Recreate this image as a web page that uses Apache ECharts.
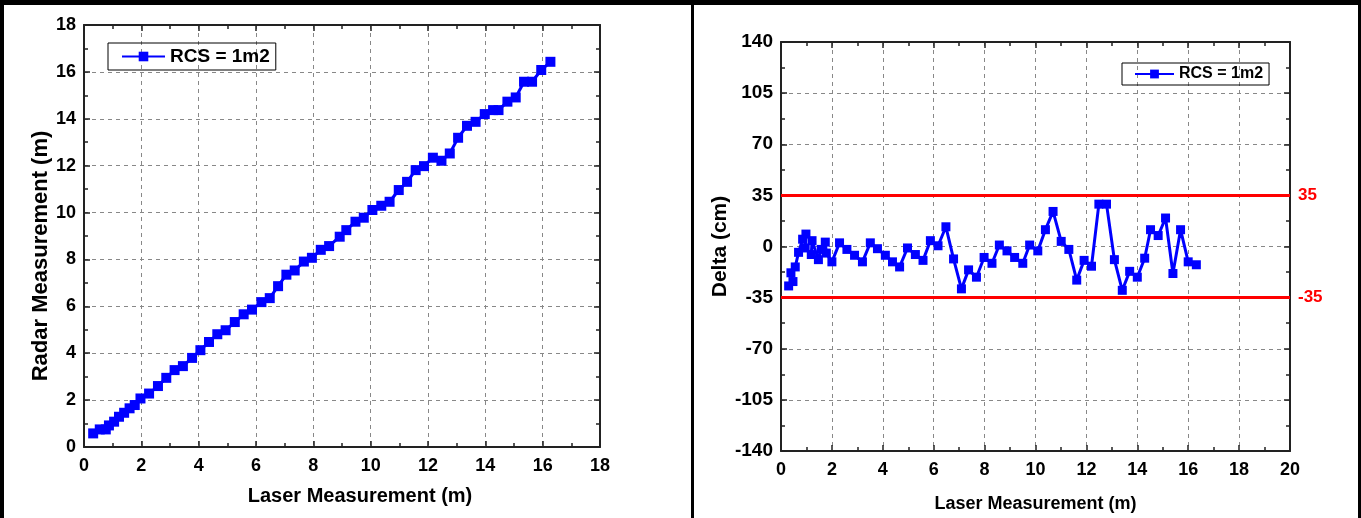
<!DOCTYPE html>
<html>
<head>
<meta charset="utf-8">
<script src="https://cdn.jsdelivr.net/npm/echarts@6/dist/echarts.min.js"></script>
<style>
  html, body { margin: 0; padding: 0; background: #fff; }
  #main { width: 1361px; height: 518px; }
</style>
</head>
<body>
<div id="main"></div>
<script>
// left panel: radar vs laser (m)
const leftLaser = [0.32, 0.55, 0.76, 0.87, 1.05, 1.22, 1.40, 1.59, 1.77, 1.97, 2.27, 2.58, 2.87, 3.16, 3.45, 3.77,
  4.06, 4.36, 4.65, 4.94, 5.26, 5.57, 5.86, 6.19, 6.48, 6.77, 7.06, 7.35, 7.67, 7.95, 8.26, 8.55, 8.92, 9.15,
  9.47, 9.76, 10.06, 10.37, 10.66, 10.98, 11.27, 11.57, 11.86, 12.17, 12.47, 12.76, 13.05, 13.36, 13.66, 13.98,
  14.27, 14.46, 14.77, 15.06, 15.35, 15.63, 15.95, 16.27];
const leftRadar = [0.58, 0.75, 0.75, 0.92, 1.08, 1.29, 1.46, 1.65, 1.79, 2.07, 2.28, 2.60, 2.95, 3.28, 3.45, 3.80,
  4.13, 4.48, 4.81, 4.98, 5.33, 5.66, 5.86, 6.18, 6.35, 6.86, 7.35, 7.53, 7.91, 8.07, 8.41, 8.57, 8.97, 9.25,
  9.61, 9.78, 10.11, 10.29, 10.46, 10.96, 11.31, 11.81, 11.98, 12.34, 12.21, 12.52, 13.19, 13.70, 13.87, 14.20,
  14.37, 14.37, 14.73, 14.91, 15.58, 15.58, 16.08, 16.43];

// right panel: delta (cm) vs laser (m)
const rightLaser = [0.30, 0.47, 0.39, 0.56, 0.69, 0.85, 0.98, 0.95, 1.19, 1.22, 1.47, 1.58, 1.74, 1.78, 2.00, 2.30,
  2.59, 2.89, 3.20, 3.51, 3.79, 4.10, 4.38, 4.66, 4.97, 5.28, 5.58, 5.87, 6.17, 6.48, 6.78, 7.09, 7.37, 7.68,
  7.98, 8.29, 8.58, 8.88, 9.18, 9.50, 9.77, 10.09, 10.39, 10.69, 11.01, 11.31, 11.62, 11.91, 12.20, 12.49,
  12.79, 13.10, 13.41, 13.70, 14.00, 14.29, 14.52, 14.82, 15.11, 15.40, 15.70, 16.00, 16.32];
const rightDelta = [-27, -24, -18, -14, -4, 5, 8.5, -1, -5.5, 4, -9, -2, 3, -4.5, -10.5, 2.5,
  -2, -6, -10.5, 2.5, -1.5, -6, -10.5, -14, -1, -5.5, -9.5, 4, 0.5, 13.5, -8.5, -29, -16, -21,
  -7.5, -11.5, 1, -3, -7.5, -11.5, 1, -3, 11.5, 24, 3.5, -2, -23, -9.5, -13.5, 29,
  29, -9, -30, -17, -21, -8, 11.5, 7.5, 19.5, -18.5, 11.5, -10.5, -12.5];

const limits = [35, -35];
const seriesName = "RCS = 1m2";

const FONT = "'Liberation Sans', Arial, sans-serif";

function makeAxis(opts) {
  const main = !opts.hidden;
  return {
    type: "value",
    gridIndex: opts.grid,
    position: opts.position,
    min: opts.min,
    max: opts.max,
    interval: opts.interval,
    name: main ? opts.name : "",
    nameLocation: "middle",
    nameGap: opts.nameGap,
    nameTextStyle: {
      fontFamily: FONT, fontWeight: "bold", fontSize: opts.nameSize, color: "#000",
      padding: opts.namePad || 0,
    },
    axisLine: { show: true, onZero: false, lineStyle: { color: "#222", width: 2 } },
    axisTick: { show: true, inside: true, length: 6, lineStyle: { color: "#222", width: 1.5 } },
    minorTick: { show: true, splitNumber: 2, length: 4, lineStyle: { color: "#222", width: 1.5 } },
    axisLabel: {
      show: main,
      margin: opts.margin,
      fontFamily: FONT,
      fontWeight: "bold",
      fontSize: opts.labelSize,
      color: "#000",
    },
    splitLine: {
      show: main,
      lineStyle: { color: "#888", type: [4, 4], width: 1 },
    },
  };
}

const chart = echarts.init(document.getElementById("main"));

const leftData = leftLaser.map((x, i) => [x, leftRadar[i]]);
const rightData = rightLaser.map((x, i) => [x, rightDelta[i]]);

const option = {
  animation: false,
  grid: [
    { left: 84, top: 25, width: 516, height: 422 },
    { left: 781, top: 42, width: 509, height: 409 },
  ],
  legend: [
    {
      data: [seriesName],
      left: 108, top: 43,
      padding: [4, 6, 4, 13],
      itemWidth: 43, itemHeight: 12,
      borderColor: "#000", borderWidth: 1,
      textStyle: { fontFamily: FONT, fontWeight: "bold", fontSize: 19, color: "#000" },
      selectedMode: false,
    },
    {
      data: [seriesName],
      left: 1122, top: 63,
      padding: [3, 6, 3, 12],
      itemWidth: 39, itemHeight: 11,
      borderColor: "#000", borderWidth: 1,
      textStyle: { fontFamily: FONT, fontWeight: "bold", fontSize: 16, color: "#000" },
      selectedMode: false,
    },
  ],
  xAxis: [
    makeAxis({ grid: 0, position: "bottom", min: 0, max: 18, interval: 2, name: "Laser Measurement (m)",
      nameGap: 39, nameSize: 20, labelSize: 18, margin: 10, namePad: [0, 0, 0, 36] }),
    makeAxis({ grid: 0, position: "top", min: 0, max: 18, interval: 2, hidden: true }),
    makeAxis({ grid: 1, position: "bottom", min: 0, max: 20, interval: 2, name: "Laser Measurement (m)",
      nameGap: 44, nameSize: 18, labelSize: 18, margin: 10 }),
    makeAxis({ grid: 1, position: "top", min: 0, max: 20, interval: 2, hidden: true }),
  ],
  yAxis: [
    makeAxis({ grid: 0, position: "left", min: 0, max: 18, interval: 2, name: "Radar Measurement (m)",
      nameGap: 31, nameSize: 22, labelSize: 18, margin: 8, namePad: [0, 40, 0, 0] }),
    makeAxis({ grid: 0, position: "right", min: 0, max: 18, interval: 2, hidden: true }),
    makeAxis({ grid: 1, position: "left", min: -140, max: 140, interval: 35, name: "Delta (cm)",
      nameGap: 49, nameSize: 21, labelSize: 19, margin: 8 }),
    makeAxis({ grid: 1, position: "right", min: -140, max: 140, interval: 35, hidden: true }),
  ],
  series: [
    {
      name: seriesName,
      type: "line",
      xAxisIndex: 0, yAxisIndex: 0,
      data: leftData,
      symbol: "rect", symbolSize: 10,
      lineStyle: { color: "#0000ff", width: 3 },
      itemStyle: { color: "#0000ff" },
    },
    {
      name: seriesName,
      type: "line",
      xAxisIndex: 2, yAxisIndex: 2,
      data: rightData,
      symbol: "rect", symbolSize: 9,
      lineStyle: { color: "#0000ff", width: 3 },
      itemStyle: { color: "#0000ff" },
      markLine: {
        silent: true,
        symbol: "none",
        lineStyle: { color: "#ff0000", width: 3, type: "solid" },
        label: {
          position: "end",
          distance: 8,
          formatter: "{c}",
          color: "#ff0000",
          fontFamily: FONT, fontWeight: "bold", fontSize: 17,
        },
        data: limits.map((v) => ({ yAxis: v })),
      },
    },
  ],
  graphic: [
    // panel frame
    { type: "rect", shape: { x: 0, y: 0, width: 1361, height: 5 }, style: { fill: "#000" } },
    { type: "rect", shape: { x: 0, y: 0, width: 4, height: 518 }, style: { fill: "#000" } },
    { type: "rect", shape: { x: 691, y: 0, width: 3, height: 518 }, style: { fill: "#000" } },
    { type: "rect", shape: { x: 1358, y: 0, width: 3, height: 518 }, style: { fill: "#000" } },
  ],
};

chart.setOption(option);
</script>
</body>
</html>
